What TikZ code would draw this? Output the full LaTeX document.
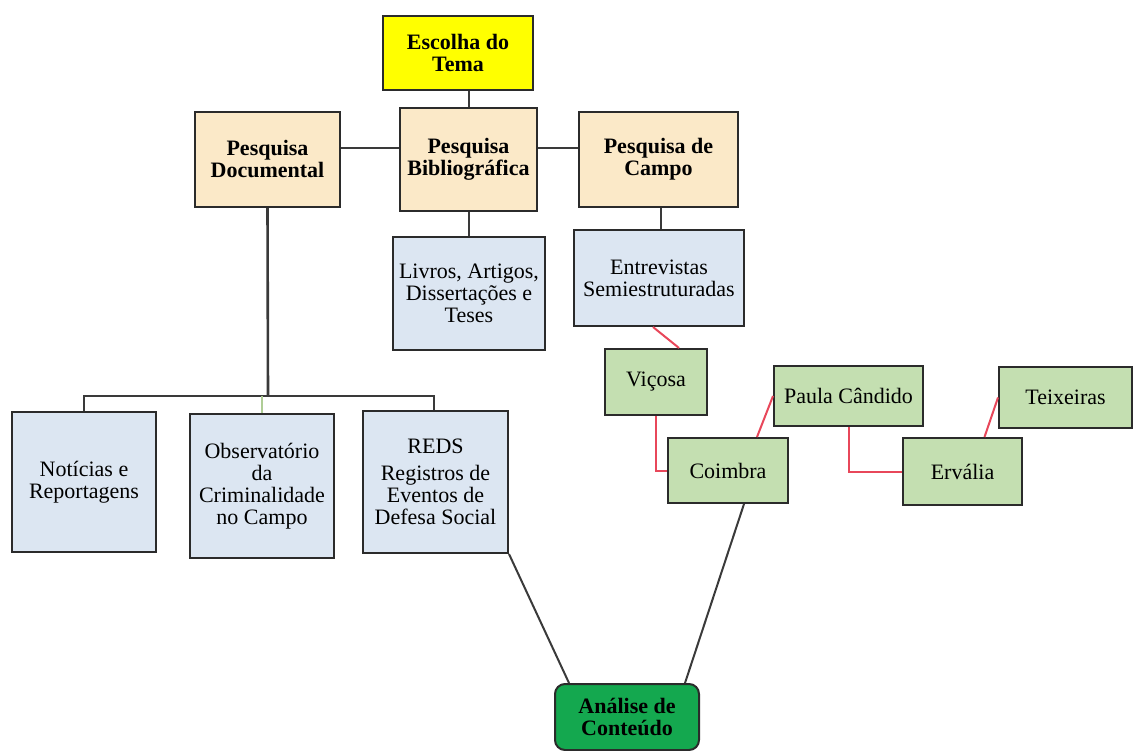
\documentclass[tikz,border=0pt]{standalone}
\usepackage{fontspec}
\setmainfont{Liberation Serif}
\newfontfamily\rotulo{Liberation Serif}
\usetikzlibrary{positioning,calc}
\definecolor{tema}{HTML}{FFFF00}
\definecolor{tan}{HTML}{FBE9C8}
\definecolor{azul}{HTML}{DCE6F2}
\definecolor{verde}{HTML}{C4DFB1}
\definecolor{verdeesc}{HTML}{14A84F}
\definecolor{borda}{HTML}{2B2B2B}
\definecolor{liga}{HTML}{3A3A3A}
\definecolor{ligared}{HTML}{E8475A}
\tikzstyle{caixa} = [rectangle, draw=borda, line width=2pt, inner sep=0pt, align=center, font=\rotulo\fontsize{22}{22}\selectfont]
\tikzstyle{titulo} = [caixa, fill=tan, font=\rotulo\fontsize{22}{22}\selectfont\bfseries]
\tikzstyle{fonte} = [caixa, fill=azul]
\tikzstyle{cidade} = [caixa, fill=verde]
\tikzstyle{link} = [draw=liga, line width=2pt]
\tikzstyle{redlink} = [draw=ligared, line width=2pt]

\begin{document}
\begin{tikzpicture}[x=1pt,y=-1pt]
\useasboundingbox (0,0) rectangle (1134,751);
% etapas
\node (tema) [titulo, fill=tema, minimum width=150pt, minimum height=74pt] at (458,53) {Escolha do\\Tema};
\node (doc) [titulo, minimum width=145pt, minimum height=95pt] at (267.5,159.5) {Pesquisa\\Documental};
\node (bib) [titulo, minimum width=137pt, minimum height=103pt] at (468.5,159.5) {Pesquisa\\Bibliográfica};
\node (campo) [titulo, minimum width=159pt, minimum height=95pt] at (658.5,159.5) {Pesquisa de\\Campo};
% fontes
\node (livros) [fonte, minimum width=152pt, minimum height=113pt] at (469,293.5) {Livros, Artigos,\\Dissertações e\\Teses};
\node (entrev) [fonte, minimum width=170pt, minimum height=96pt] at (659,278) {Entrevistas\\Semiestruturadas};
\node (noticias) [fonte, minimum width=144pt, minimum height=140pt] at (84,482) {Notícias e\\Reportagens};
\node (observ) [fonte, minimum width=144pt, minimum height=144pt] at (262,486) {Observatório\\da\\Criminalidade\\no Campo};
\node (reds) [fonte, minimum width=145pt, minimum height=142pt] at (435.5,482) {REDS\\[5pt]Registros de\\Eventos de\\Defesa Social};
% cidades
\node (vicosa) [cidade, minimum width=102pt, minimum height=66pt] at (656,382) {Viçosa};
\node (coimbra) [cidade, minimum width=120pt, minimum height=65pt] at (728,470.5) {Coimbra};
\node (paula) [cidade, minimum width=149pt, minimum height=60pt] at (848.5,396) {Paula Cândido};
\node (ervalia) [cidade, minimum width=119pt, minimum height=67pt] at (962.5,471.5) {Ervália};
\node (teix) [cidade, minimum width=133pt, minimum height=61pt] at (1065.5,397.5) {Teixeiras};
% resultado
\node (analise) [titulo, fill=verdeesc, rounded corners=10pt, minimum width=144pt, minimum height=66pt] at (627,717) {Análise de\\Conteúdo};

\coordinate (bus) at (268,396);

\draw[link] (bib.north) -- (bib.north |- tema.south);
\draw[link] ([yshift=11pt]doc.east) -- ([yshift=11pt]doc.east -| bib.west);
\draw[link] ([yshift=11pt]bib.east) -- ([yshift=11pt]bib.east -| campo.west);
\draw[link] (bib.south) -- (bib.south |- livros.north);
\draw[link] ([xshift=2pt]campo.south) -- ([xshift=2pt]campo.south |- entrev.north);
\draw[link, line width=2.6pt] (doc.south) -- (bus);
\draw[link] (noticias.north) |- (bus) -| ([xshift=-2pt]reds.north);
\draw[draw={rgb,255:red,175;green,205;blue,150}, line width=1.4pt] (observ.north) -- (observ.north |- bus);

\draw[redlink] ([xshift=-6pt]entrev.south) -- ([xshift=23pt]vicosa.north);
\draw[redlink] (vicosa.south) |- (coimbra.west);
\draw[redlink] ([xshift=29pt]coimbra.north) -- (paula.west);
\draw[redlink] (paula.south) |- (ervalia.west);
\draw[redlink] ([xshift=22pt]ervalia.north) -- (teix.west);

\draw[link] (reds.south east) -- ([xshift=-58pt]analise.north);
\draw[link] ([xshift=16pt]coimbra.south) -- ([xshift=58pt]analise.north);
\end{tikzpicture}
\end{document}
